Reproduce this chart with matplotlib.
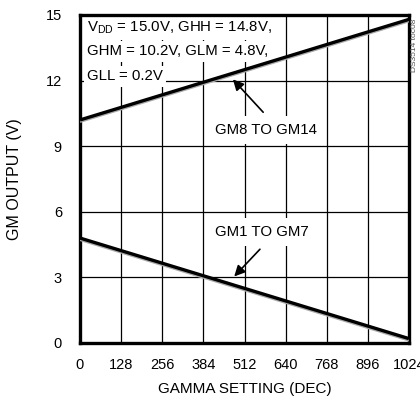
import matplotlib
matplotlib.use("Agg")
import matplotlib.pyplot as plt

plt.rcParams['font.family'] = ['Liberation Sans', 'DejaVu Sans']

gamma = [0, 1024]
gm8_14 = [10.2, 14.8]
gm1_7 = [4.8, 0.2]
xticks = [0, 128, 256, 384, 512, 640, 768, 896, 1024]
yticks = [0, 3, 6, 9, 12, 15]

fig = plt.figure(figsize=(4.2, 4.04), dpi=100)
ax = fig.add_axes([80/420, 61/404, 329/420, 328/404])
ax.set_xlim(0, 1024)
ax.set_ylim(0, 15)
ax.set_xticks(xticks)
ax.set_yticks(yticks)
ax.tick_params(length=0, labelsize=10.5)
ax.tick_params(axis='y', pad=13)
ax.tick_params(axis='x', pad=11)
ax.grid(True, color='black', lw=0.9)
for s in ax.spines.values():
    s.set_linewidth(2.4)

for ys in (gm8_14, gm1_7):
    ax.plot(gamma, [v - 0.08 for v in ys], color='#aaaaaa', lw=1.8, zorder=3, solid_capstyle='butt')
    ax.plot(gamma, ys, color='black', lw=2.4, zorder=4, solid_capstyle='butt')

ax.set_xlabel('GAMMA SETTING (DEC)', fontsize=11, labelpad=7)
ax.set_ylabel('GM OUTPUT (V)', fontsize=11.5, labelpad=17)

fs = 10.8
bb = dict(facecolor='white', edgecolor='none', pad=2.5)
ax.text(22, 14.4, r'V$_{\mathregular{DD}}$ = 15.0V, GHH = 14.8V,', fontsize=fs, va='center', ha='left', bbox=bb, zorder=2.2)
ax.text(22, 13.35, 'GHM = 10.2V, GLM = 4.8V,', fontsize=fs, va='center', ha='left', bbox=bb, zorder=2.2)
ax.text(22, 12.2, 'GLL = 0.2V', fontsize=fs, va='center', ha='left', bbox=bb, zorder=2.2)

ax.text(578, 9.73, 'GM8 TO GM14', fontsize=fs, ha='center', va='center', bbox=dict(facecolor='white', edgecolor='none', pad=5), zorder=2.2)
ax.annotate('', xy=(470, 12.15), xytext=(576, 10.46),
            arrowprops=dict(arrowstyle='-|>', color='black', lw=1.2, mutation_scale=16), zorder=6)
ax.text(566, 5.07, 'GM1 TO GM7', fontsize=fs, ha='center', va='center', bbox=dict(facecolor='white', edgecolor='none', pad=5), zorder=2.2)
ax.annotate('', xy=(474, 2.95), xytext=(566, 4.38),
            arrowprops=dict(arrowstyle='-|>', color='black', lw=1.2, mutation_scale=16), zorder=6)

fig.text(414/420, 1 - 45/404, 'DS3514 toc08', rotation=90, fontsize=6, color='#555555', ha='center', va='center')

fig.savefig('out.png', dpi=100)
